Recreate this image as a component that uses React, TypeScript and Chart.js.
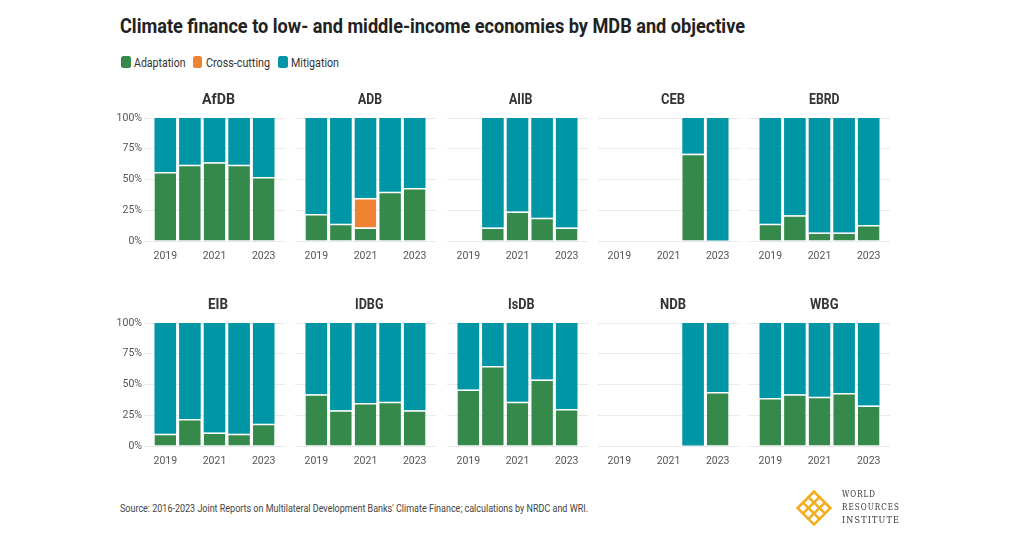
import React, { useEffect, useRef } from 'react';
import { Chart, registerables } from 'chart.js';

Chart.register(...registerables);

// ---------- data ----------
const years = [2019, 2020, 2021, 2022, 2023];
const yearTicks = [2019, 2021, 2023];
const percentTicks = [0, 25, 50, 75, 100];
const banks = ['AfDB', 'ADB', 'AIIB', 'CEB', 'EBRD', 'EIB', 'IDBG', 'IsDB', 'NDB', 'WBG'];
const seriesNames = ['Adaptation', 'Cross-cutting', 'Mitigation'];
const seriesColors = ['#35894b', '#ee8331', '#0096a5'];

// share of climate finance (%), one row per bank in the order of `banks`, columns = years
const adaptation: (number | null)[][] = [
  [56, 62, 64, 62, 52], // AfDB
  [22, 14, 11, 40, 43], // ADB
  [null, 11, 24, 19, 11], // AIIB
  [null, null, null, 71, 0], // CEB
  [14, 21, 7, 7, 13], // EBRD
  [10, 22, 11, 10, 18], // EIB
  [42, 29, 35, 36, 29], // IDBG
  [46, 65, 36, 54, 30], // IsDB
  [null, null, null, 0, 44], // NDB
  [39, 42, 40, 43, 33], // WBG
];
const crossCutting: (number | null)[][] = [
  [null, null, null, null, null],
  [null, null, 24, null, null],
  [null, null, null, null, null],
  [null, null, null, null, null],
  [null, null, null, null, null],
  [null, null, null, null, null],
  [null, null, null, null, null],
  [null, null, null, null, null],
  [null, null, null, null, null],
  [null, null, null, null, null],
];
const mitigation: (number | null)[][] = [
  [44, 38, 36, 38, 48],
  [78, 86, 65, 60, 57],
  [null, 89, 76, 81, 89],
  [null, null, null, 29, 100],
  [86, 79, 93, 93, 87],
  [90, 78, 89, 90, 82],
  [58, 71, 65, 64, 71],
  [54, 35, 64, 46, 70],
  [null, null, null, 100, 56],
  [61, 58, 60, 57, 67],
];
const seriesValues = [adaptation, crossCutting, mitigation];

// ---------- layout ----------
const SANS = "Roboto, 'Liberation Sans', sans-serif";
const PLOT_LEFT0 = 143.8;
const PITCH = 151.4;
const PLOT_W = 141;
const PX_PER_YEAR = 24.6;
const ROW_TOP = [118, 323];
const PLOT_H = 123;
const Y_AXIS_W = 36;
const TOP_PAD = 12;
const X_AXIS_H = 26;
const TITLE_W = [33, 24, 23.5, 24, 30.5, 20, 28.5, 26.5, 26, 28.5];

const measureCtx = typeof document !== 'undefined' ? document.createElement('canvas').getContext('2d') : null;

function FitText(props: { text: string; x: number; y: number; width: number; font: string; color: string; spacing?: number }) {
  const { text, x, y, width, font, color, spacing = 0 } = props;
  let w = width;
  if (measureCtx) {
    measureCtx.font = font;
    w = measureCtx.measureText(text).width + spacing * text.length;
  }
  const s = w > 0 ? width / w : 1;
  return (
    <div
      style={{
        position: 'absolute',
        left: x,
        top: y,
        font,
        color,
        lineHeight: 1,
        letterSpacing: spacing ? spacing + 'px' : undefined,
        whiteSpace: 'nowrap',
        transform: `translateY(-50%) scaleX(${s})`,
        transformOrigin: '0 50%',
      }}
    >
      {text}
    </div>
  );
}

function Panel({ index }: { index: number }) {
  const ref = useRef<HTMLCanvasElement>(null);
  const col = index % 5;
  const row = Math.floor(index / 5);
  const yW = col === 0 ? Y_AXIS_W : 0;
  const plotLeft = Math.round(PLOT_LEFT0 + col * PITCH);
  const left = plotLeft - yW;
  const top = ROW_TOP[row] - TOP_PAD;
  const width = yW + PLOT_W;
  const height = TOP_PAD + PLOT_H + X_AXIS_H;
  const titleCenter = PLOT_LEFT0 + col * PITCH + PLOT_W / 2 + 4;

  useEffect(() => {
    const half = PLOT_W / 2 / PX_PER_YEAR;
    const tickFont = { family: SANS, size: 10.5 };
    const chart = new Chart(ref.current as HTMLCanvasElement, {
      type: 'bar',
      data: {
        datasets: seriesNames.map((name, s) => ({
          label: name,
          data: years.map((x, i) => ({ x, y: seriesValues[s][index][i] })),
          backgroundColor: seriesColors[s],
          borderColor: 'rgba(255,255,255,0.8)',
          borderWidth: (c: any) => {
            const v = c.raw && c.raw.y;
            return s === 2 || !v ? 0 : { top: 1.5, left: 0, right: 0, bottom: 0 };
          },
          borderSkipped: false,
          barPercentage: 0.88,
          categoryPercentage: 1,
        })),
      } as any,
      options: {
        animation: false,
        responsive: true,
        maintainAspectRatio: false,
        layout: { padding: { top: TOP_PAD, left: 0, right: 0, bottom: 0 } },
        plugins: {
          legend: { display: false },
          tooltip: { enabled: false },
          title: { display: false },
        },
        scales: {
          x: {
            type: 'linear',
            stacked: true,
            offset: false,
            bounds: 'data',
            min: 2021 - half,
            max: 2021 + half,
            grid: { display: false, drawTicks: false, offset: false },
            border: { display: false },
            afterBuildTicks: (scale: any) => {
              scale.ticks = yearTicks.map((v) => ({ value: v }));
            },
            afterFit: (scale: any) => {
              scale.height = X_AXIS_H;
            },
            ticks: {
              callback: (v: any) => String(v),
              font: tickFont,
              color: '#555',
              padding: 9,
              maxRotation: 0,
              autoSkip: false,
            },
          },
          y: {
            stacked: true,
            min: 0,
            max: 100,
            afterBuildTicks: (scale: any) => {
              scale.ticks = percentTicks.map((v) => ({ value: v }));
            },
            afterFit: (scale: any) => {
              scale.width = yW;
            },
            grid: { color: '#e9e9e9', lineWidth: 1, drawTicks: false },
            border: { display: false },
            ticks: {
              display: col === 0,
              callback: (v: any) => v + '%',
              font: tickFont,
              color: '#555',
              padding: 2,
            },
          },
        },
      } as any,
    });
    return () => chart.destroy();
  }, []);

  return (
    <>
      <div style={{ position: 'absolute', left, top, width, height }}>
        <canvas ref={ref} />
      </div>
      <FitText
        text={banks[index]}
        x={titleCenter - TITLE_W[index] / 2}
        y={ROW_TOP[row] - 19.5}
        width={TITLE_W[index]}
        font={`bold 15px ${SANS}`}
        color="#333"
      />
    </>
  );
}

function Logo() {
  const lines = [0, 1, 2, 3];
  return (
    <svg style={{ position: 'absolute', left: 796, top: 490 }} width={36} height={36} viewBox="0 0 36 36">
      <g transform="rotate(45 18 18)" stroke="#f2ae1f" strokeWidth={2.6} strokeLinecap="round" fill="none">
        {lines.map((i) => (
          <line key={'v' + i} x1={6.5 + i * 7.7} y1={6.5} x2={6.5 + i * 7.7} y2={29.5} />
        ))}
        {lines.map((i) => (
          <line key={'h' + i} x1={6.5} y1={6.5 + i * 7.7} x2={29.5} y2={6.5 + i * 7.7} />
        ))}
      </g>
    </svg>
  );
}

export default function App() {
  const legendX = [121, 192.5, 278];
  const legendTextX = [133.5, 206, 290.5];
  const legendTextW = [51.5, 64, 48];
  return (
    <div
      style={{
        position: 'absolute',
        left: 0,
        top: 0,
        width: 1020,
        height: 538,
        background: '#fff',
        overflow: 'hidden',
      }}
    >
      <FitText
        text="Climate finance to low- and middle-income economies by MDB and objective"
        x={120}
        y={26}
        width={625}
        font={`bold 20px ${SANS}`}
        color="#222"
      />
      {seriesNames.map((name, i) => (
        <React.Fragment key={name}>
          <div
            style={{
              position: 'absolute',
              left: legendX[i],
              top: 56,
              width: 9.5,
              height: 12,
              borderRadius: 2.5,
              background: seriesColors[i],
            }}
          />
          <FitText text={name} x={legendTextX[i]} y={62.5} width={legendTextW[i]} font={`12px ${SANS}`} color="#333" />
        </React.Fragment>
      ))}
      {banks.map((b, i) => (
        <Panel key={b} index={i} />
      ))}
      <FitText
        text="Source: 2016-2023 Joint Reports on Multilateral Development Banks' Climate Finance; calculations by NRDC and WRI."
        x={120}
        y={509}
        width={468}
        font={`10.5px ${SANS}`}
        color="#444"
      />
      <Logo />
      <FitText text="WORLD" x={842} y={494} width={34} font="8.5px 'DejaVu Serif', 'Liberation Serif', serif" color="#333" spacing={1.2} />
      <FitText text="RESOURCES" x={842} y={507} width={58} font="8.5px 'DejaVu Serif', 'Liberation Serif', serif" color="#333" spacing={1.2} />
      <FitText text="INSTITUTE" x={842} y={520} width={58} font="8.5px 'DejaVu Serif', 'Liberation Serif', serif" color="#333" spacing={1.2} />
    </div>
  );
}
